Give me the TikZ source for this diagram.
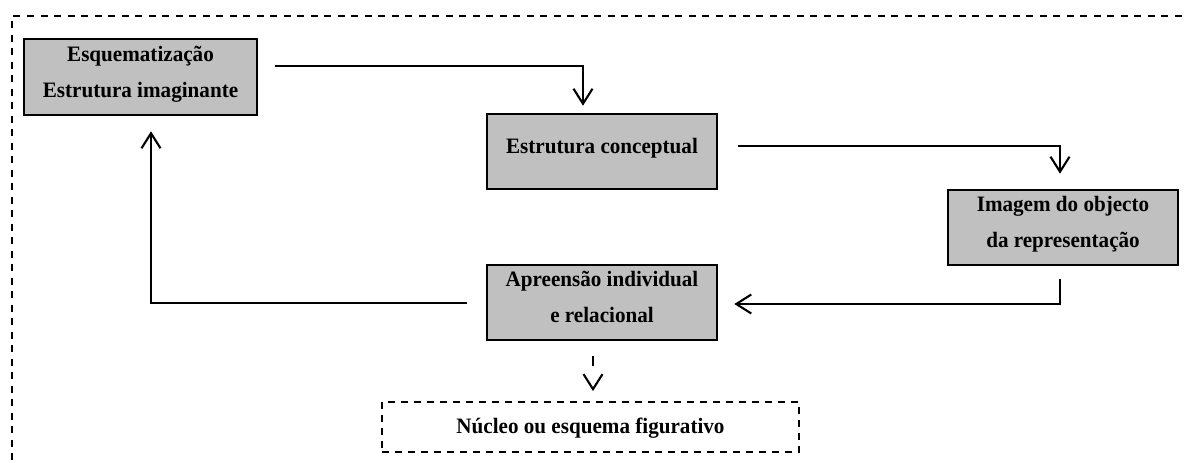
\documentclass[tikz,border=0pt]{standalone}
\usepackage{fontspec}
\setmainfont{Liberation Serif}[FakeStretch=0.96]
\usetikzlibrary{arrows.meta}
\definecolor{boxgray}{HTML}{C0C0C0}
\begin{document}
\begin{tikzpicture}[x=1pt,y=-1pt,
  box/.style={draw=black, line width=2.6pt, fill=boxgray, minimum width=230pt, minimum height=75pt, inner sep=0pt},
  dbox/.style={draw=black, line width=1.8pt, dash pattern=on 7pt off 6pt, minimum width=417pt, minimum height=50pt, inner sep=0pt},
  txt/.style={font=\fontsize{22}{26}\selectfont\bfseries, anchor=base, inner sep=0pt},
  conn/.style={line width=2.1pt, -{Straight Barb[length=15pt,width=19pt,line width=2.1pt]}},
  dconn/.style={line width=2.1pt, dash pattern=on 10pt off 30pt, -{Straight Barb[length=15pt,width=19pt,line width=2.1pt]}},
  frame/.style={line width=1.6pt, dash pattern=on 7pt off 6.5pt}]
\clip (0,0) rectangle (1184,463);
\draw[frame] (1195,16) -- (12,16) -- (12,475);
% boxes
\node[box, minimum width=233pt, minimum height=76pt] (b1) at (140.5,77) {};
\node[box] (b2) at (602,151.5) {};
\node[box] (b3) at (1063,227.5) {};
\node[box] (b4) at (602,302.5) {};
\node[dbox] (b5) at (590.5,427) {};
% texts
\node[txt] (b1t1) at ([yshift=16pt]b1.center) {Esquematização};
\node[txt] (b1t2) at ([yshift=-20pt]b1.center) {Estrutura imaginante};
\node[txt] (b2t1) at ([yshift=-1.5pt]b2.center) {Estrutura conceptual};
\node[txt] (b3t1) at ([yshift=16.5pt]b3.center) {Imagem do objecto};
\node[txt] (b3t2) at ([yshift=-19.5pt]b3.center) {da representação};
\node[txt] (b4t1) at ([yshift=16.5pt]b4.center) {Apreensão individual};
\node[txt] (b4t2) at ([yshift=-19.5pt]b4.center) {e relacional};
\node[txt] (b5t1) at ([yshift=-6pt]b5.center) {Núcleo ou esquema figurativo};
% connectors
\draw[conn] ([xshift=17pt,yshift=11pt]b1.east) -| ([xshift=-19pt,yshift=7pt]b2.north);
\draw[conn] ([xshift=20pt,yshift=5.5pt]b2.east) -| ([xshift=-3pt,yshift=15pt]b3.north);
\draw[conn] ([xshift=-3pt,yshift=-13pt]b3.south) |- ([xshift=16pt,yshift=-1.5pt]b4.east);
\draw[conn] ([xshift=-19pt,yshift=-0.5pt]b4.west) -| ([xshift=10.5pt,yshift=-15pt]b1.south);
\draw[dconn] ([xshift=-9pt,yshift=-15pt]b4.south) -- ([xshift=2.5pt,yshift=10pt]b5.north);
\end{tikzpicture}
\end{document}
